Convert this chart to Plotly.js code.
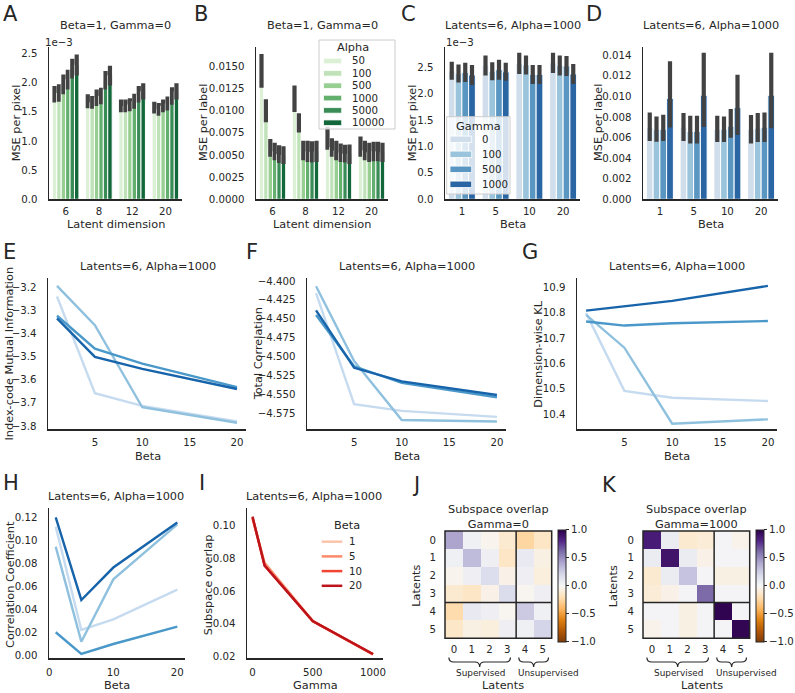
<!DOCTYPE html>
<html><head><meta charset="utf-8">
<script src="https://cdn.plot.ly/plotly-3.0.1.min.js"></script>
<style>html,body{margin:0;padding:0;background:#fff;}#chart{width:795px;height:693px;}</style>
</head><body><div id="chart"></div>
<script>
// ================= DATA =================
const latentDims = ['6', '8', '12', '20'];
const alphaLevels = ['50', '100', '500', '1000', '5000', '10000'];
const betaLevels = ['1', '5', '10', '20'];
const betaValues = [1, 5, 10, 20];
const gammaLevels = ['0', '100', '500', '1000'];
const gammaValues = [0, 100, 500, 1000];
const betaTicks = [5, 10, 15, 20];
const betaTicksH = [0, 10, 20];
const gammaTicks = [0, 500, 1000];
const latentIdx = [0, 1, 2, 3, 4, 5];
const nSupervised = 4;

// A: MSE per pixel (x1e-3); rows = alpha, cols = latent dimension
const msePixelByAlpha = [
  [1.80, 1.68, 1.60, 1.57],
  [1.82, 1.66, 1.60, 1.54],
  [1.97, 1.74, 1.62, 1.60],
  [2.05, 1.77, 1.68, 1.64],
  [2.24, 2.04, 1.80, 1.77],
  [2.30, 2.12, 1.85, 1.85]
];
const msePixelByAlphaErr = [
  [0.14, 0.12, 0.11, 0.10],
  [0.15, 0.11, 0.11, 0.11],
  [0.17, 0.14, 0.11, 0.11],
  [0.17, 0.14, 0.13, 0.12],
  [0.17, 0.16, 0.14, 0.15],
  [0.18, 0.17, 0.14, 0.14]
];
// B: MSE per label; rows = alpha, cols = latent dimension
const mseLabelByAlpha = [
  [0.0145, 0.01135, 0.0069, 0.00595],
  [0.0100, 0.00863, 0.00585, 0.0055],
  [0.0058, 0.0055, 0.0055, 0.0053],
  [0.0054, 0.0054, 0.00525, 0.0054],
  [0.0051, 0.00535, 0.00515, 0.0054],
  [0.0050, 0.0054, 0.0051, 0.0053]
];
const mseLabelByAlphaErr = [
  [0.0019, 0.0015, 0.0013, 0.00115],
  [0.0013, 0.0011, 0.00105, 0.0011],
  [0.0010, 0.0011, 0.0011, 0.0011],
  [0.0010, 0.0012, 0.00105, 0.0011],
  [0.0010, 0.0012, 0.0010, 0.0011],
  [0.0010, 0.0012, 0.0011, 0.0011]
];
// C: MSE per pixel (x1e-3); rows = gamma, cols = beta
const msePixelByGamma = [
  [2.43, 2.53, 2.57, 2.58],
  [2.38, 2.42, 2.54, 2.53],
  [2.40, 2.45, 2.36, 2.52],
  [2.35, 2.41, 2.36, 2.37]
];
const msePixelByGammaErr = [
  [0.17, 0.19, 0.20, 0.19],
  [0.17, 0.17, 0.18, 0.19],
  [0.18, 0.19, 0.18, 0.19],
  [0.19, 0.17, 0.18, 0.19]
];
// D: MSE per label; rows = gamma, cols = beta (mean, CI low, CI high)
const mseLabelByGamma = [
  [0.0070, 0.0070, 0.0068, 0.0068],
  [0.0068, 0.0066, 0.0068, 0.0069],
  [0.0068, 0.0066, 0.0071, 0.0070],
  [0.0098, 0.0101, 0.0089, 0.0101]
];
const mseLabelByGammaLo = [
  [0.00566, 0.00566, 0.00556, 0.00543],
  [0.00560, 0.00543, 0.00556, 0.00556],
  [0.00566, 0.00543, 0.00599, 0.00556],
  [0.00697, 0.00703, 0.00625, 0.00690]
];
const mseLabelByGammaHi = [
  [0.00844, 0.00838, 0.00811, 0.00818],
  [0.00805, 0.00811, 0.00805, 0.00838],
  [0.00821, 0.00811, 0.00877, 0.00844],
  [0.01341, 0.01424, 0.01211, 0.01424]
];
// E: index-code mutual information; rows = gamma, x = beta
const mutualInfo = [
  [-3.240, -3.658, -3.713, -3.780],
  [-3.194, -3.364, -3.719, -3.786],
  [-3.323, -3.465, -3.530, -3.632],
  [-3.334, -3.501, -3.553, -3.640]
];
// F: total correlation
const totalCorr = [
  [-4.416, -4.563, -4.572, -4.580],
  [-4.407, -4.506, -4.584, -4.586],
  [-4.445, -4.513, -4.535, -4.554],
  [-4.439, -4.515, -4.533, -4.551]
];
// G: dimension-wise KL
const dimKL = [
  [10.798, 10.492, 10.465, 10.452],
  [10.791, 10.662, 10.363, 10.380],
  [10.765, 10.749, 10.758, 10.767],
  [10.808, 10.826, 10.846, 10.905]
];
// H: correlation coefficient
const corrCoef = [
  [0.112, 0.0218, 0.031, 0.057],
  [0.0946, 0.0116, 0.066, 0.114],
  [0.0198, 0.0010, 0.0096, 0.0247],
  [0.120, 0.048, 0.0763, 0.1156]
];
// I: subspace overlap; rows = beta, x = gamma
const subspaceOverlap = [
  [0.1040, 0.0775, 0.0418, 0.0215],
  [0.1045, 0.0770, 0.0418, 0.0215],
  [0.1050, 0.0757, 0.0416, 0.0214],
  [0.1055, 0.0756, 0.0418, 0.0216]
];
// J/K: subspace overlap matrices
const overlapGamma0 = [
  [0.42, 0.05, -0.03, -0.12, -0.25, -0.15],
  [0.05, 0.33, 0.06, -0.15, 0.10, -0.06],
  [-0.03, 0.06, 0.17, -0.05, 0.06, -0.08],
  [-0.12, -0.15, -0.05, 0.18, -0.02, 0.06],
  [-0.22, 0.10, 0.06, -0.02, 0.27, 0.05],
  [-0.14, -0.06, -0.08, 0.06, 0.05, 0.22]
];
const overlapGamma1000 = [
  [0.86, 0.08, -0.12, -0.10, 0.02, -0.04],
  [0.08, 0.90, 0.08, -0.05, 0.02, 0.02],
  [-0.12, 0.08, 0.30, 0.02, -0.06, -0.06],
  [-0.10, -0.05, 0.02, 0.62, 0.02, 0.02],
  [0.02, 0.02, -0.06, 0.02, 0.98, 0.02],
  [-0.04, 0.02, -0.06, 0.02, 0.02, 0.97]
];
const colorbarTicks = [-1, -0.5, 0, 0.5, 1];

// ================= STYLE =================
const W = 795, H = 693;
const FONT = 'DejaVu Sans';
const TXT = '#262626';
const ERR = '#424242';
const FS_TICK = 10.2, FS_TITLE = 11.3, FS_LETTER = 21;
const greensBar = ['#dcf0d6', '#bfe2b8', '#97cf92', '#63b06e', '#3a8c57', '#12683a'];
const bluesBar = ['#d0deec', '#9ac3dc', '#5997c2', '#2a66a3'];
const bluesLine = ['#c6dbef', '#8fc1de', '#4a98c9', '#1764ab'];
const redsLine = ['#fcc3ab', '#fc8a6a', '#f14432', '#bc141a'];
const PuOr = [[0, '#7f3b08'], [0.1, '#b35806'], [0.2, '#e08214'], [0.3, '#fdb863'], [0.4, '#fee0b6'],
  [0.5, '#f7f7f7'], [0.6, '#d8daeb'], [0.7, '#b2abd2'], [0.8, '#8073ac'], [0.9, '#542788'], [1, '#2d004b']];

const px = x => x / W;
const py = y => 1 - y / H;
const xd = (a, b) => [a / W, b / W];
const yd = (t, b) => [1 - b / H, 1 - t / H];

const layout = {
  width: W, height: H, margin: {l: 0, r: 0, t: 0, b: 0},
  paper_bgcolor: '#ffffff', plot_bgcolor: 'rgba(0,0,0,0)',
  showlegend: false, barmode: 'group', bargap: 0.2, bargroupgap: 0,
  font: {family: FONT, color: TXT, size: FS_TICK},
  annotations: [], shapes: []
};

function axBase() {
  return {showline: true, linecolor: TXT, linewidth: 1.5, mirror: false, showgrid: false,
    zeroline: false, ticks: '', tickfont: {family: FONT, size: FS_TICK, color: TXT}, fixedrange: true};
}
function setAxes(n, xdom, ydom, xopt, yopt) {
  const xs = n === 1 ? 'xaxis' : 'xaxis' + n, ys = n === 1 ? 'yaxis' : 'yaxis' + n;
  layout[xs] = Object.assign(axBase(), {domain: xdom, anchor: n === 1 ? 'y' : 'y' + n, ticklabelstandoff: 2}, xopt);
  layout[ys] = Object.assign(axBase(), {domain: ydom, anchor: n === 1 ? 'x' : 'x' + n, ticklabelstandoff: 8}, yopt);
}
function ann(text, x, y, o) {
  o = o || {};
  layout.annotations.push({text: text, xref: o.xref || 'paper', yref: 'paper', x: o.xref ? x : px(x), y: py(y),
    xanchor: o.xa || 'center', yanchor: o.ya || 'middle', showarrow: false, textangle: o.rot || 0, borderpad: 0,
    font: {family: FONT, size: o.size || FS_TITLE, color: TXT}});
}

const traces = [];
function barTrace(x, y, ep, em, color, xa, ya) {
  const e = {type: 'data', array: ep, color: ERR, thickness: 4.2, width: 0, visible: true};
  if (em) { e.symmetric = false; e.arrayminus = em; }
  return {type: 'bar', x: x, y: y, xaxis: xa, yaxis: ya, hoverinfo: 'skip',
    marker: {color: color, line: {color: '#ffffff', width: 1}}, error_y: e};
}
function lineTrace(x, y, color, xa, ya, w) {
  return {type: 'scatter', mode: 'lines', x: x, y: y, xaxis: xa, yaxis: ya, hoverinfo: 'skip',
    line: {color: color, width: w || 2.4}};
}

// ----- A -----
alphaLevels.forEach((a, i) => traces.push(barTrace(latentDims, msePixelByAlpha[i], msePixelByAlphaErr[i], null, greensBar[i], 'x', 'y')));
// ----- B -----
alphaLevels.forEach((a, i) => traces.push(barTrace(latentDims, mseLabelByAlpha[i], mseLabelByAlphaErr[i], null, greensBar[i], 'x2', 'y2')));
// ----- C -----
gammaLevels.forEach((g, i) => traces.push(barTrace(betaLevels, msePixelByGamma[i], msePixelByGammaErr[i], null, bluesBar[i], 'x3', 'y3')));
// ----- D -----
gammaLevels.forEach((g, i) => {
  const m = mseLabelByGamma[i];
  const plus = m.map((v, j) => mseLabelByGammaHi[i][j] - v);
  const minus = m.map((v, j) => v - mseLabelByGammaLo[i][j]);
  traces.push(barTrace(betaLevels, m, plus, minus, bluesBar[i], 'x4', 'y4'));
});
// ----- E, F, G, H -----
[[mutualInfo, 5], [totalCorr, 6], [dimKL, 7], [corrCoef, 8]].forEach(([arr, n]) => {
  gammaLevels.forEach((g, i) => traces.push(lineTrace(betaValues, arr[i], bluesLine[i], 'x' + n, 'y' + n)));
});
// ----- I -----
betaLevels.forEach((b, i) => traces.push(lineTrace(gammaValues, subspaceOverlap[i], redsLine[i], 'x9', 'y9')));
// ----- J, K -----
function heat(z, n, cbx) {
  return {type: 'heatmap', z: z, x: latentIdx, y: latentIdx, xaxis: 'x' + n, yaxis: 'y' + n,
    colorscale: PuOr, zmin: -1, zmax: 1, hoverinfo: 'skip',
    colorbar: {x: px(cbx), xanchor: 'left', xref: 'paper', y: py(529.5), yanchor: 'top', yref: 'paper',
      len: 112, lenmode: 'pixels', thickness: 7.7, thicknessmode: 'pixels', xpad: 0, ypad: 0,
      outlinewidth: 1, outlinecolor: TXT, tickvals: colorbarTicks, tickformat: '.1f',
      ticks: 'outside', ticklen: 3, tickwidth: 1, tickcolor: TXT,
      tickfont: {family: FONT, size: FS_TICK, color: TXT}}};
}
traces.push(heat(overlapGamma0, 10, 558.3));
traces.push(heat(overlapGamma1000, 11, 756));

// ================= AXES =================
const row1 = yd(47, 199.3), row2 = yd(278.3, 429), row3 = yd(508.3, 658.3);
const catX = cats => ({type: 'category', categoryorder: 'array', categoryarray: cats, range: [-0.5, 3.5]});
setAxes(1, xd(49, 182), row1, catX(latentDims), {range: [0, 2.61], dtick: 0.5, tick0: 0, tickformat: '.1f'});
setAxes(2, xd(256, 388), row1, catX(latentDims), {range: [0, 0.0172], dtick: 0.0025, tick0: 0, tickformat: '.4f'});
setAxes(3, xd(445, 580), row1, catX(betaLevels), {range: [0, 2.88], dtick: 0.5, tick0: 0, tickformat: '.1f'});
setAxes(4, xd(643, 778), row1, catX(betaLevels), {range: [0, 0.0148], dtick: 0.002, tick0: 0, tickformat: '.3f'});
const betaX = {range: [0.05, 20.95], tickvals: betaTicks, ticklabelstandoff: 3};
setAxes(5, xd(48, 246), row2, betaX, {range: [-3.813, -3.161], dtick: 0.1, tick0: 0, tickformat: '.1f'});
setAxes(6, xd(307, 506), row2, betaX, {range: [-4.596, -4.3965], dtick: 0.025, tick0: 0, tickformat: '.3f'});
setAxes(7, xd(577, 777), row2, betaX, {range: [10.342, 10.935], dtick: 0.1, tick0: 0, tickformat: '.1f'});
setAxes(8, xd(49, 185), row3, {range: [-0.05, 21.2], tickvals: betaTicksH, ticklabelstandoff: 4}, {range: [-0.0029, 0.128], dtick: 0.02, tick0: 0, tickformat: '.2f'});
setAxes(9, xd(247, 383), row3, {range: [-46, 1083], tickvals: gammaTicks, ticklabelstandoff: 4}, {range: [0.019, 0.1106], dtick: 0.02, tick0: 0, tickformat: '.2f'});
const hmY = yd(531, 638.3);
const hmX = {range: [-0.5, 5.5], tickvals: latentIdx, showline: false, ticklabelstandoff: 3};
const hmYax = {range: [5.5, -0.5], tickvals: latentIdx, showline: false};
setAxes(10, xd(445, 551.7), hmY, hmX, hmYax);
setAxes(11, xd(643, 749.7), hmY, hmX, hmYax);

// heatmap borders + supervised/unsupervised separators
[10, 11].forEach(n => {
  const xr = 'x' + n + ' domain', yr = 'y' + n + ' domain';
  const f = nSupervised / latentIdx.length;
  layout.shapes.push({type: 'rect', xref: xr, yref: yr, x0: 0, x1: 1, y0: 0, y1: 1, line: {color: TXT, width: 1.5}});
  layout.shapes.push({type: 'line', xref: xr, yref: yr, x0: f, x1: f, y0: 0, y1: 1, line: {color: TXT, width: 1.5}});
  layout.shapes.push({type: 'line', xref: xr, yref: yr, x0: 0, x1: 1, y0: 1 - f, y1: 1 - f, line: {color: TXT, width: 1.5}});
  // braces
  const toDom = v => (v + 0.5) / latentIdx.length;
  const brace = (a, b) => {
    const xa = toDom(a), xb = toDom(b), xm = (xa + xb) / 2, r = 0.045;
    const y0 = py(657.5), y1 = py(662), y2 = py(667);
    return {type: 'path', xref: xr, yref: 'paper', line: {color: TXT, width: 1.2},
      path: `M${xa},${y0} Q${xa},${y1} ${xa + r},${y1} L${xm - r},${y1} Q${xm},${y1} ${xm},${y2} Q${xm},${y1} ${xm + r},${y1} L${xb - r},${y1} Q${xb},${y1} ${xb},${y0}`};
  };
  layout.shapes.push(brace(-0.28, nSupervised - 0.82));
  layout.shapes.push(brace(nSupervised - 0.35, latentIdx.length - 0.68));
  ann('Supervised', toDom(1.5), 673, {xref: xr, size: 8.9});
  ann('Unsupervised', toDom(5.3), 673, {xref: xr, size: 8.9});
});

// ================= TEXT =================
[['A', 10.3, 14.5], ['B', 200.5, 14.5], ['C', 408.7, 14.5], ['D', 594, 14.5],
 ['E', 9.7, 251.7], ['F', 252, 251.7], ['G', 529.7, 251.7],
 ['H', 10.8, 483.3], ['I', 201.7, 483.3], ['J', 415.8, 485], ['K', 609.2, 485]]
  .forEach(([t, x, y]) => ann(t, x, y, {size: FS_LETTER}));

const t1 = 'Beta=1, Gamma=0', t2 = 'Latents=6, Alpha=1000';
[[t1, 115.5, 26], [t1, 322, 26], [t2, 512.5, 26], [t2, 710.5, 26],
 [t2, 147.5, 266], [t2, 406.5, 266], [t2, 677, 266], [t2, 116, 496.7], [t2, 314, 496.7],
 ['Subspace overlap<br>Gamma=0', 498.3, 517], ['Subspace overlap<br>Gamma=1000', 696.3, 517]]
  .forEach(([t, x, y]) => ann(t, x, y));

[['Latent dimension', 115.5, 224], ['Latent dimension', 322, 224], ['Beta', 512.5, 224], ['Beta', 710.5, 224],
 ['Beta', 147.5, 456], ['Beta', 406.5, 456], ['Beta', 677, 456],
 ['Beta', 117, 685], ['Gamma', 315, 685], ['Latents', 503, 685], ['Latents', 702, 685]]
  .forEach(([t, x, y]) => ann(t, x, y));

[['MSE per pixel', 17.3, 123], ['MSE per label', 204, 123], ['MSE per pixel', 413.3, 123], ['MSE per label', 599, 123],
 ['Index-code Mutual Information', 8.5, 354], ['Total Correlation', 258.3, 354], ['Dimension-wise KL', 537.7, 354],
 ['Correlation Coefficient', 10, 585], ['Subspace overlap', 208.3, 585], ['Latents', 415.7, 586], ['Latents', 613.3, 586]]
  .forEach(([t, x, y]) => ann(t, x, y, {rot: -90}));

ann('1e\u22123', 43.5, 42.5, {xa: 'left', size: FS_TICK});
ann('1e\u22123', 445, 42.5, {xa: 'left', size: FS_TICK});

// ================= LEGENDS =================
function rectPx(x0, y0, x1, y1, fill, line) {
  layout.shapes.push({type: 'rect', xref: 'paper', yref: 'paper', x0: px(x0), x1: px(x1), y0: py(y1), y1: py(y0),
    fillcolor: fill, line: line || {width: 0}});
}
// B: Alpha
rectPx(319, 40, 395, 129, 'rgba(255,255,255,0.8)', {color: '#cccccc', width: 1});
ann('Alpha', 353, 47.3);
alphaLevels.forEach((a, i) => {
  const yc = 61 + i * 12.35;
  rectPx(323.5, yc - 2.8, 341.7, yc + 2.8, greensBar[i], {color: '#ffffff', width: 0.8});
  ann(a, 350.5, yc, {xa: 'left', size: FS_TICK});
});
// C: Gamma
rectPx(446.7, 116.7, 510, 194, 'rgba(255,255,255,0.8)', {color: '#cccccc', width: 1});
ann('Gamma', 478.3, 126);
gammaLevels.forEach((g, i) => {
  const yc = 139.3 + i * 15;
  rectPx(450, yc - 3.2, 471.7, yc + 3.2, bluesBar[i], {color: '#ffffff', width: 0.8});
  ann(g, 480.5, yc, {xa: 'left', size: FS_TICK});
});
// I: Beta
ann('Beta', 346.7, 525);
betaLevels.forEach((b, i) => {
  const yc = 541.7 + i * 14.7;
  layout.shapes.push({type: 'line', xref: 'paper', yref: 'paper', x0: px(321.7), x1: px(342.3), y0: py(yc), y1: py(yc),
    line: {color: redsLine[i], width: 2.5}});
  ann(b, 348, yc, {xa: 'left', size: FS_TICK});
});

Plotly.newPlot('chart', traces, layout, {displayModeBar: false, staticPlot: true});
</script>
</body></html>
